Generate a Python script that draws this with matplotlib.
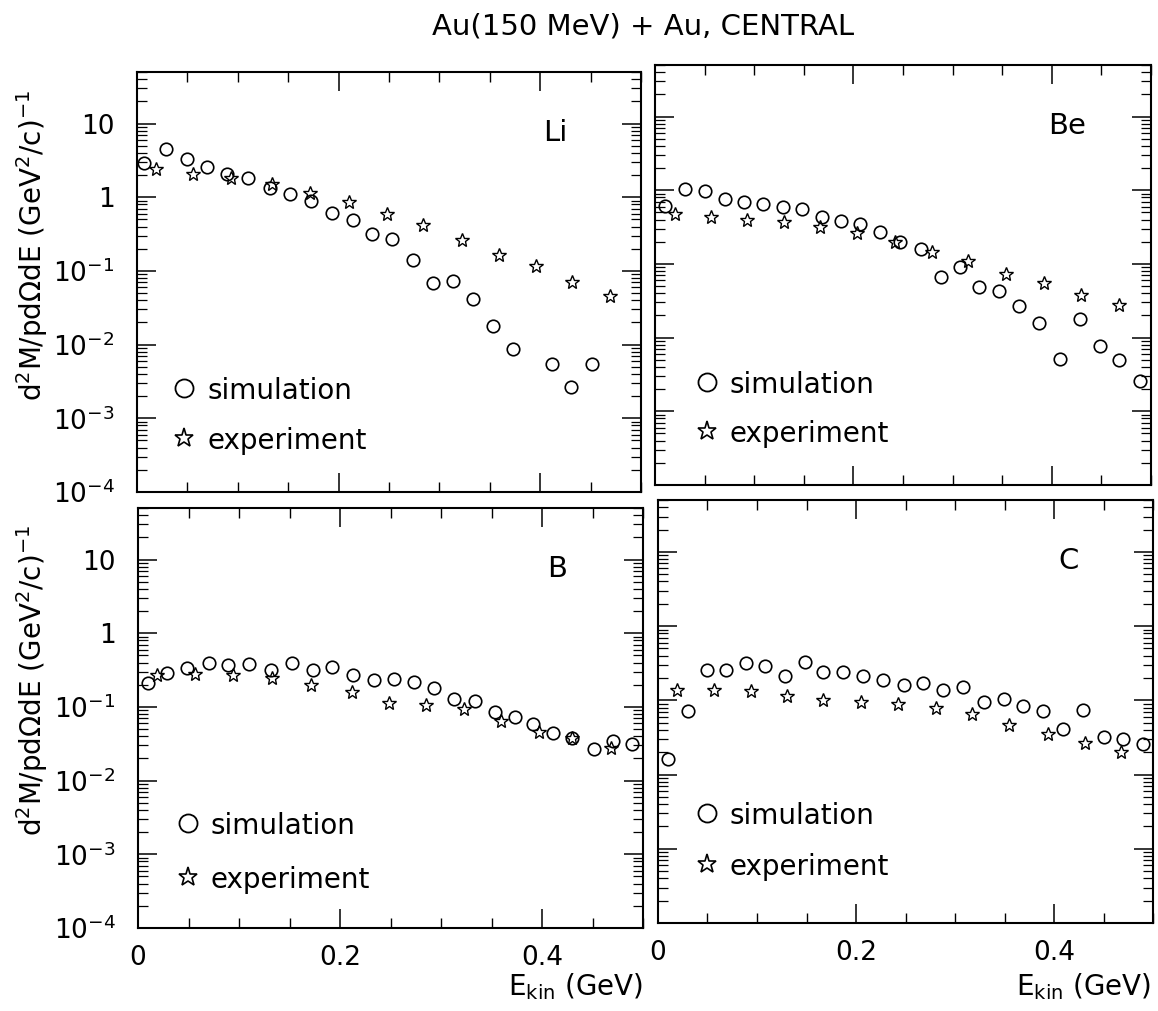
import matplotlib
matplotlib.use("Agg")
import matplotlib.pyplot as plt
from matplotlib.ticker import LogLocator, MultipleLocator, FixedLocator, FixedFormatter, NullFormatter

# ---- data (E_kin in GeV, d2M/pdOmegadE) ----
li_sim_e = [0.007, 0.029, 0.050, 0.069, 0.089, 0.110, 0.132, 0.152, 0.173, 0.193, 0.214,
            0.233, 0.253, 0.274, 0.294, 0.313, 0.333, 0.353, 0.373, 0.412, 0.431, 0.451]
li_sim_y = [2.95, 4.5, 3.3, 2.57, 2.1, 1.85, 1.33, 1.1, 0.89, 0.62, 0.49,
            0.32, 0.27, 0.14, 0.068, 0.072, 0.042, 0.018, 0.0086, 0.0055, 0.0027, 0.0054]
li_exp_e = [0.019, 0.056, 0.093, 0.134, 0.172, 0.210, 0.248, 0.284, 0.322, 0.359, 0.396, 0.432, 0.469]
li_exp_y = [2.4, 2.04, 1.85, 1.5, 1.13, 0.85, 0.60, 0.42, 0.26, 0.166, 0.118, 0.071, 0.046]

be_sim_e = [0.010, 0.030, 0.050, 0.071, 0.090, 0.109, 0.129, 0.148, 0.168, 0.187, 0.207, 0.227, 0.247,
            0.268, 0.288, 0.307, 0.327, 0.347, 0.367, 0.387, 0.408, 0.428, 0.449, 0.468, 0.489]
be_sim_y = [0.62, 1.04, 0.99, 0.75, 0.69, 0.66, 0.59, 0.55, 0.43, 0.38, 0.35, 0.275, 0.20,
            0.16, 0.066, 0.091, 0.049, 0.043, 0.027, 0.016, 0.0051, 0.018, 0.0076, 0.0050, 0.0026]
be_exp_e = [0.020, 0.056, 0.093, 0.130, 0.166, 0.204, 0.242, 0.279, 0.316, 0.354, 0.392, 0.429, 0.468]
be_exp_y = [0.48, 0.43, 0.39, 0.37, 0.32, 0.26, 0.20, 0.144, 0.108, 0.072, 0.055, 0.038, 0.028]

b_sim_e = [0.010, 0.029, 0.049, 0.070, 0.089, 0.110, 0.132, 0.152, 0.173, 0.192, 0.213, 0.234, 0.253,
           0.273, 0.293, 0.313, 0.334, 0.353, 0.373, 0.391, 0.411, 0.430, 0.451, 0.470, 0.489]
b_sim_y = [0.21, 0.29, 0.34, 0.40, 0.37, 0.38, 0.32, 0.39, 0.32, 0.35, 0.27, 0.23, 0.24,
           0.22, 0.18, 0.13, 0.12, 0.085, 0.074, 0.059, 0.044, 0.038, 0.027, 0.035, 0.031]
b_exp_e = [0.0185, 0.056, 0.094, 0.133, 0.171, 0.212, 0.249, 0.285, 0.323, 0.359, 0.397, 0.430, 0.468]
b_exp_y = [0.27, 0.28, 0.27, 0.25, 0.20, 0.16, 0.112, 0.105, 0.094, 0.065, 0.046, 0.038, 0.028]

c_sim_e = [0.0105, 0.030, 0.049, 0.069, 0.089, 0.108, 0.128, 0.148, 0.167, 0.187, 0.207, 0.227, 0.248,
           0.268, 0.288, 0.308, 0.329, 0.349, 0.369, 0.389, 0.409, 0.429, 0.450, 0.470, 0.490]
c_sim_y = [0.016, 0.072, 0.26, 0.26, 0.32, 0.29, 0.21, 0.33, 0.24, 0.24, 0.21, 0.19, 0.16,
           0.17, 0.14, 0.15, 0.094, 0.105, 0.083, 0.072, 0.041, 0.075, 0.032, 0.030, 0.026]
c_exp_e = [0.019, 0.057, 0.094, 0.130, 0.167, 0.205, 0.242, 0.281, 0.317, 0.355, 0.394, 0.431, 0.468]
c_exp_y = [0.14, 0.14, 0.134, 0.116, 0.102, 0.095, 0.089, 0.078, 0.066, 0.046, 0.035, 0.027, 0.020]

panel_names = ["Li", "Be", "B", "C"]
y_ticks = [1e-4, 1e-3, 1e-2, 1e-1, 1, 10]
y_tick_labels = [r"$10^{-4}$", r"$10^{-3}$", r"$10^{-2}$", r"$10^{-1}$", "1", "10"]
x_ticks = [0, 0.2, 0.4]
x_tick_labels = ["0", "0.2", "0.4"]

plt.rcParams["font.family"] = "DejaVu Sans"
plt.rcParams["mathtext.fontset"] = "dejavusans"

W, H = 1158, 1011
fig = plt.figure(figsize=(W / 100, H / 100), dpi=100)


def add_panel(l, r, t, b):
    return fig.add_axes([l / W, 1 - b / H, (r - l) / W, (b - t) / H])


# pixel boxes (left, right, top, bottom) of the four frames
boxes = [(137, 641, 72, 492), (655, 1151, 65, 485),
         (138, 643, 508, 928), (658, 1153, 500, 923)]
legend_pos = [(0.094, 0.248, 0.129), (0.105, 0.246, 0.128),
              (0.099, 0.249, 0.121), (0.099, 0.26, 0.14)]

series = [(li_sim_e, li_sim_y, li_exp_e, li_exp_y),
          (be_sim_e, be_sim_y, be_exp_e, be_exp_y),
          (b_sim_e, b_sim_y, b_exp_e, b_exp_y),
          (c_sim_e, c_sim_y, c_exp_e, c_exp_y)]

for i, (box, (se, sy, ee, ey), name, lp) in enumerate(zip(boxes, series, panel_names, legend_pos)):
    ax = add_panel(*box)
    ax.plot(se, sy, "o", mfc="none", mec="black", ms=9, mew=1.2, clip_on=False)
    ax.plot(ee, ey, "*", mfc="none", mec="black", ms=10, mew=1.0, clip_on=False)
    ax.set_yscale("log")
    ax.set_xlim(0, 0.5)
    ax.set_ylim(1e-4, 10 ** 1.7)

    ax.yaxis.set_major_locator(FixedLocator(y_ticks))
    ax.yaxis.set_minor_locator(LogLocator(base=10, subs=range(2, 10), numticks=20))
    ax.yaxis.set_minor_formatter(NullFormatter())
    ax.xaxis.set_major_locator(FixedLocator(x_ticks))
    ax.xaxis.set_minor_locator(MultipleLocator(0.05))

    if i % 2 == 0:
        ax.yaxis.set_major_formatter(FixedFormatter(y_tick_labels))
    else:
        ax.yaxis.set_major_formatter(NullFormatter())
    if i >= 2:
        ax.xaxis.set_major_formatter(FixedFormatter(x_tick_labels))
    else:
        ax.xaxis.set_major_formatter(NullFormatter())

    ax.tick_params(which="both", direction="in", top=True, right=True, colors="black")
    ax.tick_params(axis="y", which="major", length=14, width=1.1, labelsize=19, pad=16)
    ax.tick_params(axis="y", which="minor", length=7, width=0.9)
    ax.tick_params(axis="x", which="major", length=14, width=1.1, labelsize=19, pad=12)
    ax.tick_params(axis="x", which="minor", length=7, width=1.0)
    for sp in ax.spines.values():
        sp.set_linewidth(1.5)

    ax.text(0.83, 0.855, name, transform=ax.transAxes, ha="center", va="center", fontsize=21)

    lx, ly_sim, ly_exp = lp
    ax.plot([lx], [ly_sim], "o", mfc="none", mec="black", ms=13, mew=1.3,
            transform=ax.transAxes, clip_on=False)
    ax.plot([lx], [ly_exp], "*", mfc="none", mec="black", ms=14, mew=1.2,
            transform=ax.transAxes, clip_on=False)
    ax.text(lx + 0.045, ly_sim, "simulation", transform=ax.transAxes,
            ha="left", va="center_baseline", fontsize=20)
    ax.text(lx + 0.045, ly_exp, "experiment", transform=ax.transAxes,
            ha="left", va="center_baseline", fontsize=20)

ylab = r"d$^2$M/pd$\Omega$dE (GeV$^2$/c)$^{-1}$"
fig.text(32 / W, 1 - 245 / H, ylab, rotation=90, ha="center", va="center", fontsize=20)
fig.text(32 / W, 1 - 680 / H, ylab, rotation=90, ha="center", va="center", fontsize=20)

xlab = r"E$_{\rm kin}$ (GeV)"
fig.text(643 / W, 1 - 987 / H, xlab, ha="right", va="center", fontsize=20)
fig.text(1151 / W, 1 - 987 / H, xlab, ha="right", va="center", fontsize=20)

fig.text(643 / W, 1 - 27 / H, "Au(150 MeV) + Au, CENTRAL", ha="center", va="center", fontsize=21)

fig.savefig("out.png", dpi=100)
